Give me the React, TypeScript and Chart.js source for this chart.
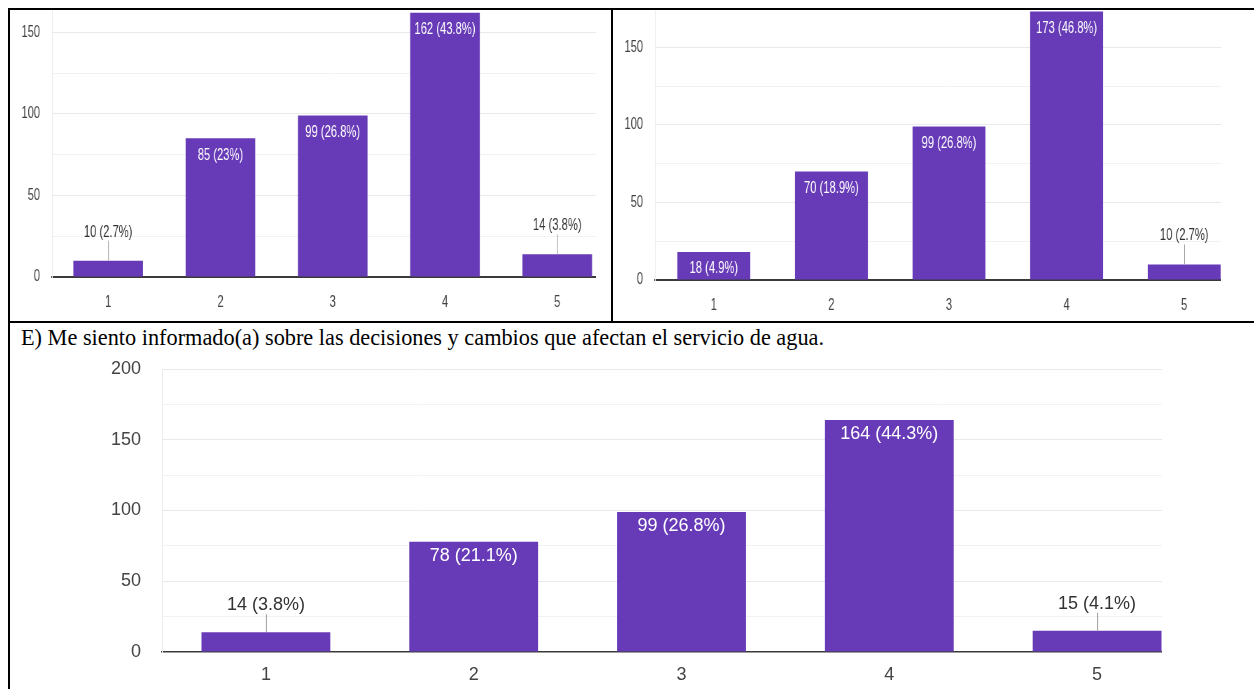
import React, { useEffect, useRef } from 'react';
import { Chart, registerables } from 'chart.js';

Chart.register(...registerables);

// Answer scale 1..5 and the number of responses for each option
const CATEGORIES = ['1', '2', '3', '4', '5'];
const LEFT_COUNTS = [10, 85, 99, 162, 14];
const RIGHT_COUNTS = [18, 70, 99, 173, 10];
const INFO_COUNTS = [14, 78, 99, 164, 15];
const INFO_TITLE =
  'E) Me siento informado(a) sobre las decisiones y cambios que afectan el servicio de agua.';

const GRID_STEP = 25;
const LABEL_STEP = 50;
const BAR_COLOR = '#673ab7';
const SANS = '"Liberation Sans", Arial, sans-serif';

function countLabel(v: number, values: number[]): string {
  const total = values.reduce((a, b) => a + b, 0);
  const pct = Math.round((v / total) * 1000) / 10;
  return `${v} (${pct}%)`;
}

type PanelProps = {
  values: number[];
  left: number;
  top: number;
  clipWidth: number;
  canvasWidth: number;
  height: number;
  squeeze: number;
  yMax: number;
  font: number;
  plotLeft: number;
  plotTop: number;
  axisBand: number;
  xPad: number;
  yPad: number;
  insideDy: number;
  leader: number;
  textGap: number;
  zeroWidth: number;
};

function BarPanel(p: PanelProps) {
  const ref = useRef<HTMLCanvasElement | null>(null);

  useEffect(() => {
    const canvas = ref.current;
    if (!canvas) return;

    const valueLabels = {
      id: 'valueLabels',
      afterDatasetsDraw(chart: any) {
        const ctx = chart.ctx as CanvasRenderingContext2D;
        const meta = chart.getDatasetMeta(0);
        ctx.save();
        ctx.font = `${p.font}px ${SANS}`;
        ctx.textAlign = 'center';
        meta.data.forEach((bar: any, i: number) => {
          const v = p.values[i];
          const text = countLabel(v, p.values);
          const h = bar.base - bar.y;
          if (h >= 26) {
            ctx.fillStyle = '#ffffff';
            ctx.textBaseline = 'middle';
            ctx.fillText(text, bar.x, bar.y + p.insideDy);
          } else {
            ctx.strokeStyle = '#9e9e9e';
            ctx.lineWidth = 1;
            ctx.beginPath();
            ctx.moveTo(bar.x + 0.5, bar.y);
            ctx.lineTo(bar.x + 0.5, bar.y - p.leader);
            ctx.stroke();
            ctx.fillStyle = '#333333';
            ctx.textBaseline = 'alphabetic';
            ctx.fillText(text, bar.x, bar.y - p.leader - p.textGap);
          }
        });
        ctx.restore();
      },
    };

    const chart = new Chart(canvas, {
      type: 'bar',
      data: {
        labels: CATEGORIES,
        datasets: [
          {
            data: p.values,
            backgroundColor: BAR_COLOR,
            borderWidth: 0,
            barPercentage: 0.62,
            categoryPercentage: 1,
          },
        ],
      },
      options: {
        responsive: false,
        animation: false,
        devicePixelRatio: 1,
        layout: { padding: { top: p.plotTop, right: 0, left: 0, bottom: 0 } },
        plugins: { legend: { display: false }, tooltip: { enabled: false } },
        scales: {
          x: {
            grid: { display: false, drawTicks: false },
            border: { color: '#3a3a3a', width: p.zeroWidth },
            ticks: {
              color: '#444444',
              font: { family: SANS, size: p.font },
              padding: p.xPad,
              maxRotation: 0,
            },
            afterFit: (s: any) => {
              s.height = p.axisBand;
              s.paddingLeft = 0;
              s.paddingRight = 0;
            },
          },
          y: {
            min: 0,
            max: p.yMax,
            grid: {
              drawTicks: false,
              lineWidth: 1,
              color: (c: any) => {
                const v = c.tick.value;
                if (v === 0) return 'rgba(0,0,0,0)';
                if (v % LABEL_STEP === 0) return '#e9e9e9';
                if (v % GRID_STEP === 0) return '#f2f2f2';
                return 'rgba(0,0,0,0)';
              },
            },
            border: { color: '#ececec', width: 1 },
            ticks: {
              stepSize: GRID_STEP,
              autoSkip: false,
              color: '#444444',
              font: { family: SANS, size: p.font },
              padding: p.yPad,
              callback: (v: any) => (Number(v) % LABEL_STEP === 0 ? String(v) : ''),
            },
            afterFit: (s: any) => {
              s.width = p.plotLeft;
              s.paddingTop = 0;
              s.paddingBottom = 0;
            },
          },
        },
      },
      plugins: [valueLabels],
    } as any);

    return () => chart.destroy();
  }, []);

  return (
    <div
      style={{
        position: 'absolute',
        left: p.left,
        top: p.top,
        width: p.clipWidth,
        height: p.height,
        overflow: 'hidden',
      }}
    >
      <canvas
        ref={ref}
        width={p.canvasWidth}
        height={p.height}
        style={{
          display: 'block',
          width: p.canvasWidth,
          height: p.height,
          transform: `scaleX(${p.squeeze})`,
          transformOrigin: '0 0',
        }}
      />
    </div>
  );
}

function Rule(props: { left: number; top: number; width: number; height: number }) {
  return <div style={{ position: 'absolute', background: '#000', ...props }} />;
}

export default function App() {
  return (
    <div
      style={{
        position: 'absolute',
        left: 0,
        top: 0,
        width: 1254,
        height: 689,
        overflow: 'hidden',
        background: '#ffffff',
      }}
    >
      <BarPanel
        values={LEFT_COUNTS}
        left={10}
        top={10}
        clipWidth={586}
        canvasWidth={862}
        height={311}
        squeeze={0.7}
        yMax={163.7}
        font={16}
        plotLeft={60}
        plotTop={0}
        axisBand={44}
        xPad={16}
        yPad={17}
        insideDy={17}
        leader={20}
        textGap={4}
        zeroWidth={2}
      />
      <BarPanel
        values={RIGHT_COUNTS}
        left={613}
        top={10}
        clipWidth={608}
        canvasWidth={900}
        height={311}
        squeeze={0.7}
        yMax={174}
        font={16}
        plotLeft={60}
        plotTop={0}
        axisBand={41}
        xPad={16}
        yPad={17}
        insideDy={17}
        leader={20}
        textGap={4}
        zeroWidth={2}
      />
      <div
        style={{
          position: 'absolute',
          left: 21,
          top: 327,
          fontFamily: '"Liberation Serif", "Times New Roman", serif',
          fontSize: 22.3,
          lineHeight: '22px',
          whiteSpace: 'nowrap',
          color: '#000',
        }}
      >
        {INFO_TITLE}
      </div>
      <BarPanel
        values={INFO_COUNTS}
        left={10}
        top={355}
        clipWidth={1152}
        canvasWidth={1191}
        height={334}
        squeeze={1}
        yMax={200}
        font={18}
        plotLeft={152}
        plotTop={14}
        axisBand={37}
        xPad={12}
        yPad={21}
        insideDy={14}
        leader={18}
        textGap={4}
        zeroWidth={1.5}
      />
      <Rule left={8} top={8} width={1246} height={2} />
      <Rule left={8} top={8} width={2} height={681} />
      <Rule left={611} top={8} width={2} height={315} />
      <Rule left={8} top={321} width={1246} height={2} />
    </div>
  );
}
